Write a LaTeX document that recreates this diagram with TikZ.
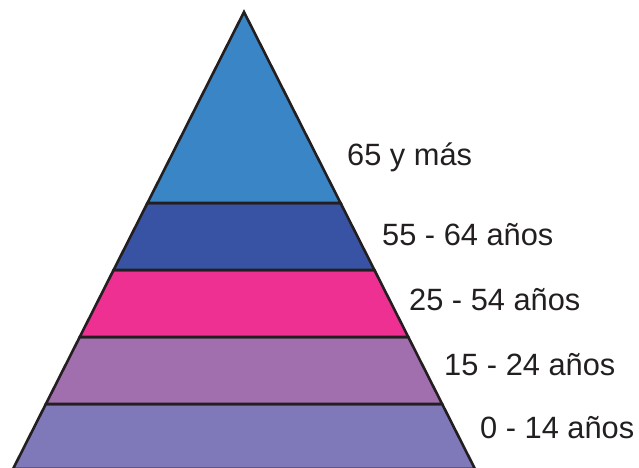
\documentclass[tikz,border=0pt]{standalone}
\usepackage{fontspec}
\setmainfont{Liberation Sans}
\usetikzlibrary{calc}
\definecolor{topblue}{HTML}{3A85C5}
\definecolor{darkblue}{HTML}{3953A4}
\definecolor{hotpink}{HTML}{EE3093}
\definecolor{mauve}{HTML}{A26FAE}
\definecolor{lavender}{HTML}{7F78B9}
\definecolor{outline}{HTML}{231F20}
\begin{document}
\begin{tikzpicture}[
    x=1pt, y=-1pt,
    band/.style={draw=outline, line width=2.6pt, line join=miter},
    agelabel/.style={anchor=base west, inner sep=0pt, font=\fontsize{30.8}{36}\selectfont, text=outline}
]
\useasboundingbox (0,0) rectangle (639,467);

% Pyramid corners
\coordinate (apex) at (244,12);
\coordinate (left) at (13,469);
\coordinate (right) at (475,469);

% Band edges
\foreach \name/\t in {a/0.418, b/0.5646, c/0.7112, d/0.8578}{
  \coordinate (l\name) at ($(apex)!\t!(left)$);
  \coordinate (r\name) at ($(apex)!\t!(right)$);
}

% Bands
\filldraw[band, fill=lavender] (ld) -- (rd) -- (right) -- (left) -- cycle;
\filldraw[band, fill=mauve] (lc) -- (rc) -- (rd) -- (ld) -- cycle;
\filldraw[band, fill=hotpink] (lb) -- (rb) -- (rc) -- (lc) -- cycle;
\filldraw[band, fill=darkblue] (la) -- (ra) -- (rb) -- (lb) -- cycle;
\filldraw[band, fill=topblue] (apex) -- (ra) -- (la) -- cycle;

% Labels
\node[agelabel] (age65) at (347,165) {65 y más};
\node[agelabel] (age55) at (382,245) {55 - 64 años};
\node[agelabel] (age25) at (409,310) {25 - 54 años};
\node[agelabel] (age15) at (444,375) {15 - 24 años};
\node[agelabel] (age0) at (480,438) {0 - 14 años};

\end{tikzpicture}
\end{document}
